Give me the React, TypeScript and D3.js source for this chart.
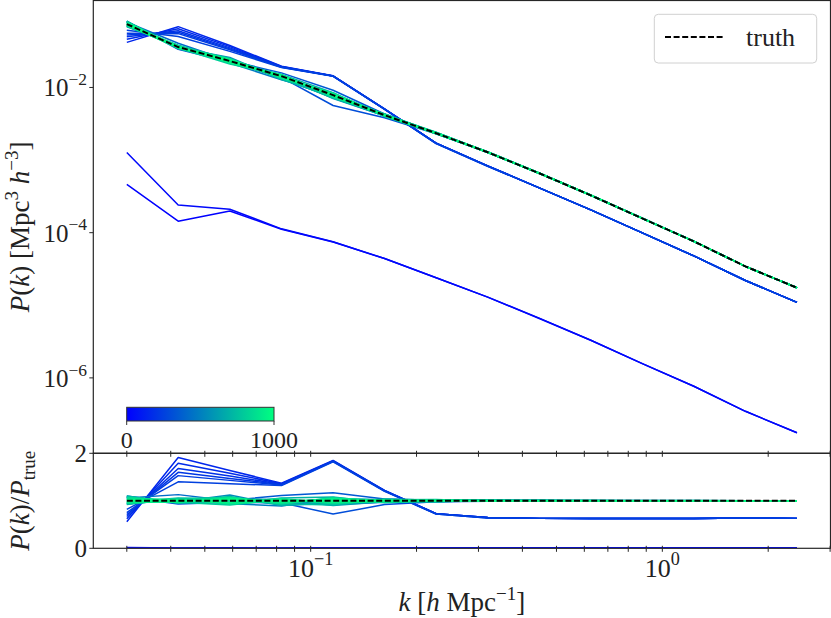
import React from 'react';
import * as d3 from 'd3';

// k bins [h/Mpc], log spaced
const kBins = [0.030, 0.0420, 0.0589, 0.0826, 0.1158, 0.1622, 0.2274, 0.3187, 0.4466, 0.6259, 0.8772, 1.229, 1.723, 2.415];

// true power spectrum
const truthPk = [0.0746, 0.0360, 0.0231, 0.0143, 0.00783, 0.00415, 0.002344, 0.001282, 6.58e-4, 3.27e-4, 1.574e-4, 7.59e-5, 3.43e-5, 1.74e-5];

// iteration of each stored run (colour)
const runIterations = [
  0, 30, 150, 170, 190, 210, 230, 250, 300, 350, 420, 480, 540, 600,
  620, 650, 680, 710, 740, 770, 800, 830, 860, 890, 920, 950, 980, 1000,
];

// P(k)/P_true of each run
const runRatios = [
  [0.0062, 0.0040, 0.0086, 0.0078, 0.0095, 0.0106, 0.0102, 0.0101, 0.0100, 0.0101, 0.0100, 0.0101, 0.0101, 0.0101],
  [0.0170, 0.0067, 0.0091, 0.0079, 0.0096, 0.0106, 0.0102, 0.0101, 0.0101, 0.0101, 0.0100, 0.0101, 0.0101, 0.0101],
  [0.56, 1.91, 1.64, 1.37, 1.85, 1.22, 0.73, 0.65, 0.63, 0.63, 0.63, 0.63, 0.64, 0.63],
  [0.62, 1.79, 1.58, 1.36, 1.84, 1.22, 0.73, 0.65, 0.63, 0.63, 0.63, 0.63, 0.64, 0.63],
  [0.67, 1.68, 1.52, 1.35, 1.84, 1.21, 0.73, 0.65, 0.63, 0.63, 0.63, 0.63, 0.64, 0.63],
  [0.71, 1.60, 1.47, 1.34, 1.83, 1.21, 0.73, 0.65, 0.63, 0.63, 0.63, 0.63, 0.64, 0.63],
  [0.75, 1.53, 1.43, 1.33, 1.83, 1.21, 0.72, 0.64, 0.63, 0.63, 0.63, 0.63, 0.64, 0.63],
  [0.82, 1.40, 1.36, 1.32, 1.82, 1.20, 0.72, 0.64, 0.63, 0.63, 0.63, 0.63, 0.64, 0.63],
  [1.08, 0.93, 0.97, 0.96, 0.72, 0.92, 0.98, 0.99, 1.00, 1.00, 1.00, 1.00, 1.00, 1.00],
  [1.10, 0.95, 1.01, 1.11, 1.17, 1.04, 1.01, 1.00, 1.00, 1.00, 1.00, 1.00, 1.00, 1.00],
  [1.06, 1.13, 1.00, 0.95, 0.92, 0.97, 1.02, 1.01, 1.00, 1.00, 1.00, 1.00, 1.00, 1.00],
  [0.93, 1.04, 0.94, 0.89, 1.05, 1.02, 0.98, 1.00, 1.01, 1.00, 1.00, 1.00, 1.00, 1.00],
  [1.07, 0.98, 1.12, 0.91, 0.94, 1.03, 1.00, 0.99, 1.00, 1.00, 1.00, 1.00, 1.00, 1.00],
  [0.95, 1.00, 1.05, 1.02, 0.90, 0.98, 1.01, 1.01, 1.00, 1.00, 1.00, 1.00, 1.00, 1.00],
  [1.09, 0.96, 1.07, 0.92, 1.06, 0.97, 1.02, 0.99, 1.01, 1.00, 1.01, 1.00, 1.00, 1.00],
  [0.92, 1.05, 0.95, 1.04, 0.93, 1.03, 0.98, 1.01, 0.99, 1.01, 1.00, 1.00, 1.00, 1.00],
  [1.06, 0.98, 1.09, 0.90, 0.96, 1.04, 1.01, 1.00, 1.00, 0.99, 1.00, 1.01, 1.00, 1.00],
  [0.95, 1.03, 0.93, 1.06, 1.08, 0.96, 0.99, 1.02, 1.01, 1.00, 1.00, 1.00, 1.00, 1.00],
  [1.10, 0.95, 1.02, 0.94, 0.91, 1.02, 1.03, 0.99, 1.00, 1.01, 1.00, 1.00, 1.00, 1.00],
  [0.97, 1.06, 1.05, 0.97, 1.04, 0.98, 0.98, 1.01, 1.00, 1.00, 0.99, 1.00, 1.00, 1.00],
  [1.03, 0.97, 0.91, 1.03, 0.95, 1.03, 1.01, 1.00, 0.99, 1.00, 1.00, 1.00, 1.00, 1.00],
  [0.94, 1.02, 1.08, 0.93, 1.07, 0.97, 1.00, 0.99, 1.01, 1.00, 1.00, 1.00, 1.00, 1.00],
  [1.07, 1.00, 0.96, 1.05, 0.94, 1.01, 1.02, 1.01, 1.00, 1.00, 1.00, 1.00, 1.00, 1.00],
  [0.96, 0.99, 1.04, 0.95, 1.03, 1.02, 0.99, 1.00, 1.00, 1.00, 1.00, 1.00, 1.00, 1.00],
  [1.04, 1.03, 0.94, 1.01, 0.97, 0.98, 1.01, 1.00, 1.00, 1.00, 1.00, 1.00, 1.00, 1.00],
  [0.98, 0.97, 1.06, 0.97, 1.05, 1.01, 1.00, 1.00, 1.00, 1.00, 1.00, 1.00, 1.00, 1.00],
  [1.02, 1.01, 0.97, 1.03, 0.98, 0.99, 1.00, 1.00, 1.00, 1.00, 1.00, 1.00, 1.00, 1.00],
  [1.00, 1.00, 1.02, 0.99, 1.01, 1.00, 1.00, 1.00, 1.00, 1.00, 1.00, 1.00, 1.00, 1.00],
];

const pkTickExps = [-6, -4, -2];
const kTickExps = [-1, 0];
const ratioTicks = [0, 2];
const cbarTicks = [0, 1000];
const maxIter = 1000;

const W = 831;
const H = 618;
const left = 93.3;
const right = 830.5;
const topY = 0.5;
const midY = 453.3;
const botY = 548.3;
const font = "'Liberation Serif', 'DejaVu Serif', serif";
const spine = '#262626';

// matplotlib-like 5% margin in log space
const logPad = (vals: number[]): [number, number] => {
  const lo = Math.log10(d3.min(vals) as number);
  const hi = Math.log10(d3.max(vals) as number);
  const p = 0.05 * (hi - lo);
  return [Math.pow(10, lo - p), Math.pow(10, hi + p)];
};

const winter = d3.interpolateRgb('#0000ff', '#00ff80');

const Sup: React.FC<{ base: string; exp: string; size: number }> = ({ base, exp, size }) => (
  <>
    {base}
    <tspan dy={-size * 0.45} fontSize={size * 0.7}>{exp}</tspan>
  </>
);

const App: React.FC = () => {
  const runPk = runRatios.map(r => r.map((v, i) => v * truthPk[i]));
  const allP = truthPk.concat(...runPk);

  const x = d3.scaleLog().domain(logPad(kBins)).range([left, right]);
  const yTop = d3.scaleLog().domain(logPad(allP)).range([midY, topY]);
  const yRatio = d3.scaleLinear().domain([0, 2]).range([botY, midY]);

  const lineTop = d3.line<number>().x((_, i) => x(kBins[i])).y(d => yTop(d));
  const lineRatio = d3.line<number>().x((_, i) => x(kBins[i])).y(d => yRatio(d));
  const ones = truthPk.map(() => 1);

  const xTicks = x.ticks();
  const cbar = d3.scaleLinear().domain([0, maxIter]).range([126.7, 274]);

  return (
    <svg width={W} height={H} style={{ position: 'absolute', left: 0, top: 0, background: '#fff' }} fontFamily={font}>
      <defs>
        <clipPath id="clipTop"><rect x={left} y={topY} width={right - left} height={midY - topY} /></clipPath>
        <clipPath id="clipBot"><rect x={left} y={midY} width={right - left} height={botY - midY} /></clipPath>
        <linearGradient id="winterGrad" x1="0" x2="1" y1="0" y2="0">
          <stop offset="0" stopColor={winter(0)} />
          <stop offset="1" stopColor={winter(1)} />
        </linearGradient>
      </defs>

      {/* top panel: P(k) */}
      <g clipPath="url(#clipTop)">
        {runPk.map((p, j) => (
          <path key={j} d={lineTop(p) ?? ''} fill="none" stroke={winter(runIterations[j] / maxIter)} strokeWidth={1.5} strokeLinejoin="round" />
        ))}
        <path d={lineTop(truthPk) ?? ''} fill="none" stroke="#000" strokeWidth={2} strokeDasharray="6,2.6" />
      </g>

      {/* bottom panel: ratio */}
      <g clipPath="url(#clipBot)">
        {runRatios.map((r, j) => (
          <path key={j} d={lineRatio(r) ?? ''} fill="none" stroke={winter(runIterations[j] / maxIter)} strokeWidth={1.5} strokeLinejoin="round" />
        ))}
        <path d={lineRatio(ones) ?? ''} fill="none" stroke="#000" strokeWidth={2} strokeDasharray="6,2.6" />
      </g>

      {/* spines */}
      <rect x={left} y={topY} width={right - left} height={midY - topY} fill="none" stroke={spine} strokeWidth={1.2} />
      <rect x={left} y={midY} width={right - left} height={botY - midY} fill="none" stroke={spine} strokeWidth={1.2} />

      {/* x ticks on both horizontal spines */}
      {[midY, botY].map(yy => xTicks.map((t, i) => (
        <line key={`${yy}-${i}`} x1={x(t)} x2={x(t)} y1={yy - 2.5} y2={yy + 3.5} stroke={spine} strokeWidth={1} />
      )))}
      {kTickExps.map(e => (
        <text key={e} x={x(Math.pow(10, e))} y={577} textAnchor="middle" fontSize={26} fill="#222">
          <Sup base="10" exp={e < 0 ? `\u2212${-e}` : `${e}`} size={26} />
        </text>
      ))}

      {/* y ticks top */}
      {pkTickExps.map(e => (
        <g key={e}>
          <line x1={left - 4} x2={left} y1={yTop(Math.pow(10, e))} y2={yTop(Math.pow(10, e))} stroke={spine} strokeWidth={1} />
          <text x={87} y={yTop(Math.pow(10, e)) + 9} textAnchor="end" fontSize={25} fill="#222">
            <Sup base="10" exp={`\u2212${-e}`} size={25} />
          </text>
        </g>
      ))}

      {/* y ticks ratio */}
      {ratioTicks.map(t => (
        <g key={t}>
          <line x1={left - 4} x2={left} y1={yRatio(t)} y2={yRatio(t)} stroke={spine} strokeWidth={1} />
          <text x={87} y={yRatio(t) + 9} textAnchor="end" fontSize={25} fill="#222">{t}</text>
        </g>
      ))}

      {/* axis labels */}
      <text x={(left + right) / 2} y={611} textAnchor="middle" fontSize={27} fill="#222">
        <tspan fontStyle="italic">k</tspan> [<tspan fontStyle="italic">h</tspan> Mpc
        <tspan dy={-11} fontSize={19}>{'\u22121'}</tspan><tspan dy={11}>]</tspan>
      </text>
      <text transform={`translate(29,${(topY + midY) / 2}) rotate(-90)`} textAnchor="middle" fontSize={27} fill="#222">
        <tspan fontStyle="italic">P</tspan>(<tspan fontStyle="italic">k</tspan>) [Mpc
        <tspan dy={-11} fontSize={19}>3</tspan>
        <tspan dy={11}> </tspan><tspan fontStyle="italic">h</tspan>
        <tspan dy={-11} fontSize={19}>{'\u22123'}</tspan><tspan dy={11}>]</tspan>
      </text>
      <text transform={`translate(29,${(midY + botY) / 2}) rotate(-90)`} textAnchor="middle" fontSize={27} fill="#222">
        <tspan fontStyle="italic">P</tspan>(<tspan fontStyle="italic">k</tspan>)/<tspan fontStyle="italic">P</tspan>
        <tspan dy={6} fontSize={19}>true</tspan>
      </text>

      {/* colorbar */}
      <rect x={cbar(0)} y={407.3} width={cbar(maxIter) - cbar(0)} height={13.7} fill="url(#winterGrad)" stroke="#333" strokeWidth={1} />
      {cbarTicks.map(t => (
        <g key={t}>
          <line x1={cbar(t)} x2={cbar(t)} y1={421} y2={425} stroke="#333" strokeWidth={1} />
          <text x={cbar(t)} y={448} textAnchor="middle" fontSize={24} fill="#222">{t}</text>
        </g>
      ))}

      {/* legend */}
      <rect x={654.3} y={14.3} width={162.4} height={48.7} rx={4} fill="#fff" fillOpacity={0.8} stroke="#d0d0d0" strokeWidth={1} />
      <line x1={665} x2={723} y1={37} y2={37} stroke="#000" strokeWidth={2} strokeDasharray="6,2.6" />
      <text x={746} y={46} fontSize={26} fill="#222">truth</text>
    </svg>
  );
};

export default App;
